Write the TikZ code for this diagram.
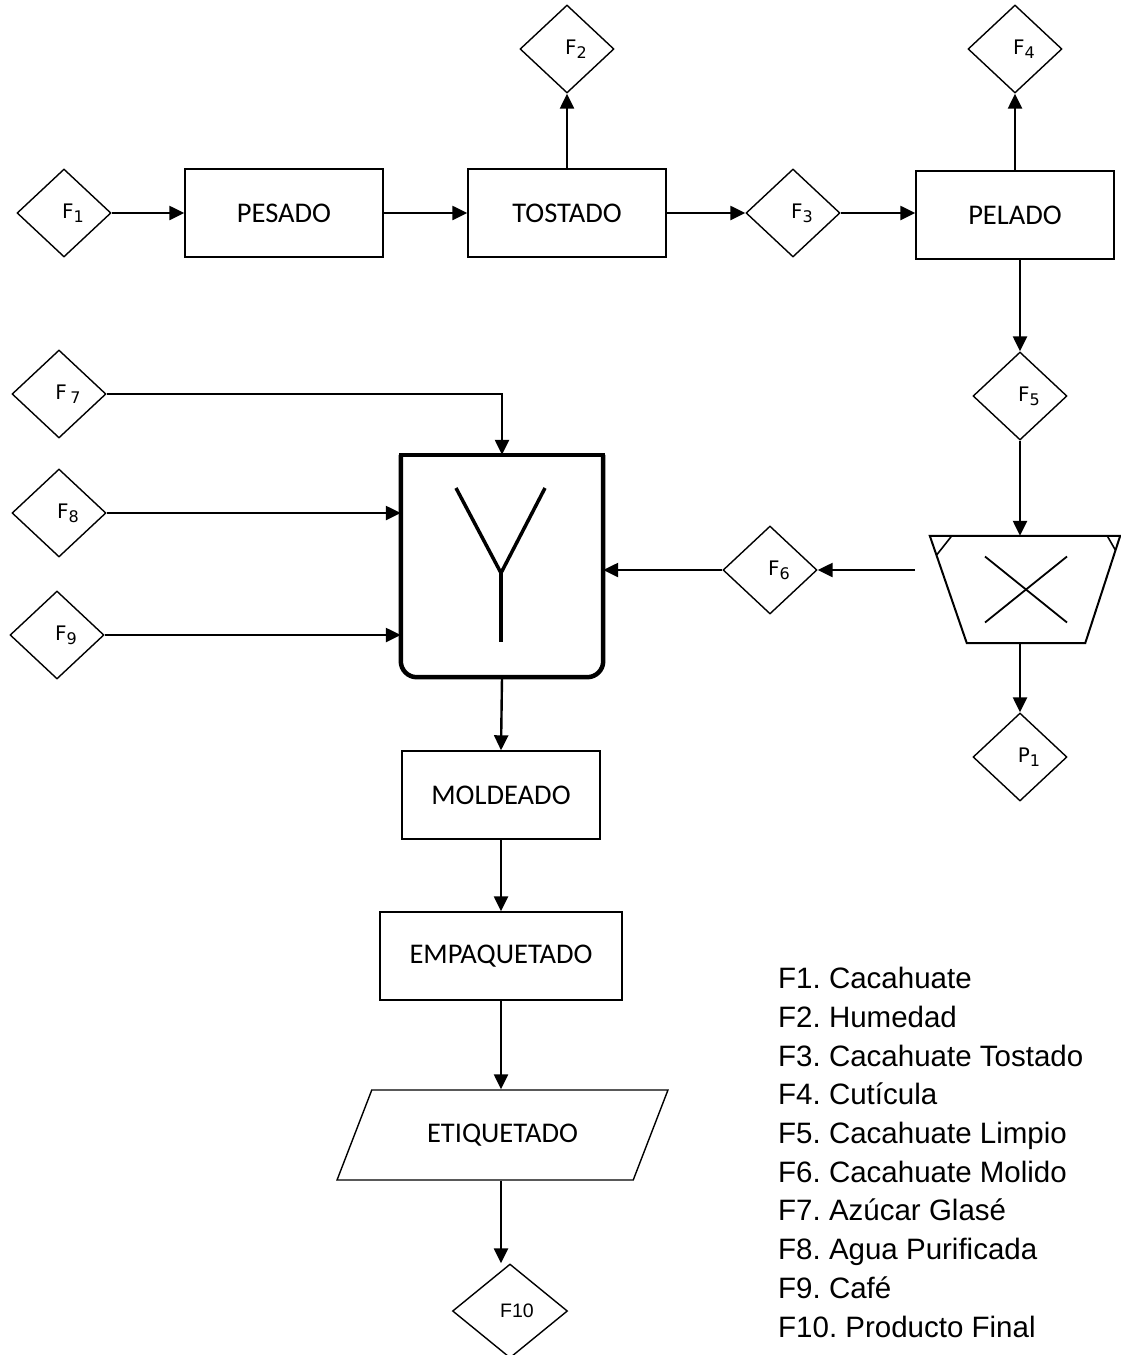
\documentclass[tikz,border=0pt]{standalone}
\usepackage{fontspec}
\setmainfont{Carlito}
\newfontfamily\legfont{Liberation Sans}
\newfontfamily\flowfont{DejaVu Sans}
\usetikzlibrary{shapes.geometric, arrows.meta, positioning}
\newcommand{\lowd}[1]{\raisebox{-0.35ex}{\fontsize{16}{16}\selectfont #1}}
\frenchspacing

\begin{document}
\begin{tikzpicture}[x=1pt, y=-1pt,
  proc/.style={rectangle, draw, line width=1.4pt, minimum width=198pt, minimum height=88pt, inner sep=0pt, font=\fontsize{28.5}{31}\selectfont},
  flow/.style={diamond, draw, line width=1.4pt, minimum width=94pt, minimum height=88pt, inner sep=0pt},
  lab/.style={xshift=9pt, font=\flowfont\fontsize{20}{21}\selectfont},
  legend/.style={anchor=base west, inner sep=0pt, font=\legfont\fontsize{29.5}{32}\selectfont},
  arrow/.style={-{Triangle[length=15pt, width=14pt]}, line width=2.4pt},
  mixline/.style={line width=4.5pt}
]
\useasboundingbox (0,0) rectangle (1121,1355);

\node[flow, label={[lab]center:F\lowd{1}}] (f1) at (64,213) {};
\node[proc] (pes) at (284,213) {PESADO};
\node[proc] (tos) at (567,213) {TOSTADO};
\node[flow, label={[lab]center:F\lowd{2}}] (f2) at (567,49) {};
\node[flow, label={[lab]center:F\lowd{3}}] (f3) at (793,213) {};
\node[proc] (pel) at (1015,215) {PELADO};
\node[flow, label={[lab]center:F\lowd{4}}] (f4) at (1015,49) {};
\node[flow, label={[lab]center:F\lowd{5}}] (f5) at (1020,396) {};
\node[minimum width=190pt, minimum height=107pt, inner sep=0pt] (mill) at (1025,589.5) {};
\coordinate (millout) at (915,570);
\node[flow, label={[lab]center:F\lowd{6}}] (f6) at (770,570) {};
\node[flow, label={[lab]center:P\lowd{1}}] (p1) at (1020,757) {};
\node[minimum width=202pt, minimum height=222pt, inner sep=0pt] (mix) at (502,566) {};
\node[flow, label={[lab]center:F\,\lowd{7}}] (f7) at (59,394) {};
\node[flow, label={[lab]center:F\lowd{8}}] (f8) at (59,513) {};
\node[flow, label={[lab]center:F\lowd{9}}] (f9) at (57,635) {};
\node[proc] (mold) at (501,795) {MOLDEADO};
\node[proc, minimum width=242pt] (emp) at (501,956) {EMPAQUETADO};
\node[trapezium, draw, line width=1.4pt, trapezium left angle=48, trapezium right angle=132, trapezium stretches=true, minimum width=331pt, minimum height=90pt, inner sep=0pt, font=\fontsize{28.5}{31}\selectfont] (etiq) at (502.5,1135) {ETIQUETADO};
\node[flow, minimum width=115pt, minimum height=94pt, label={[lab, xshift=-2pt, font=\legfont\fontsize{19.5}{20}\selectfont]center:F10}] (f10) at (510,1311) {};

\draw[line width=2pt] (mill.north west) -- (mill.north east) -- ([xshift=-35pt]mill.south east) -- ([xshift=37pt]mill.south west) -- cycle;
\draw[line width=1.6pt] (mill.north west) -- ++(22,0) -- ++(-15,19);
\draw[line width=1.6pt] (mill.north east) -- ++(-13,0) -- ++(8,14);
\draw[line width=1.8pt] ([shift={(-40,-33)}]mill.center) -- ([shift={(42,33)}]mill.center);
\draw[line width=1.8pt] ([shift={(-40,33)}]mill.center) -- ([shift={(42,-33)}]mill.center);

\draw[mixline, rounded corners=16pt] (mix.north west) -- (mix.south west) -- (mix.south east) -- (mix.north east);
\draw[mixline, line cap=rect] (mix.north west) -- (mix.north east);
\draw[line width=3.5pt] ([shift={(-46,-78)}]mix.center) -- ([shift={(-1,7)}]mix.center) -- ([shift={(43,-78)}]mix.center);
\draw[line width=3.5pt] ([shift={(-1,7)}]mix.center) -- ([shift={(-1,76)}]mix.center);

\draw[arrow] (f1) -- (pes);
\draw[arrow] (pes) -- (tos);
\draw[arrow] (tos) -- (f2);
\draw[arrow] (tos) -- (f3);
\draw[arrow] (f3) -- (pel.west |- f3);
\draw[arrow] (pel) -- (f4);
\draw[arrow] (pel.south -| f5) -- (f5.north);
\draw[arrow] (f5.south) -- (f5.south |- mill.north);
\draw[arrow] (millout) -- (f6.east);
\draw[arrow] (mill.south -| p1) -- (p1.north);
\draw[arrow] (f6.west) -- (f6.west -| mix.east);
\draw[arrow] (f7.east) -| (mix.north);
\draw[arrow] (f8.east) -- (f8.east -| mix.west);
\draw[arrow] (f9.east) -- (f9.east -| mix.west);
\draw[arrow] (mix.south) -- (mold.north);
\draw[arrow] (mold) -- (emp);
\draw[arrow] (emp.south) -- (emp.south |- etiq.north);
\draw[arrow] (etiq.south -| mold) -- (f10.north -| mold);

\foreach \i/\t in {1/Cacahuate, 2/Humedad, 3/Cacahuate Tostado, 4/Cutícula, 5/Cacahuate Limpio, 6/Cacahuate Molido, 7/Azúcar Glasé, 8/Agua Purificada, 9/Café, 10/Producto Final}
  \node[legend] (leg\i) at (778, {988.7+(\i-1)*38.7}) {F\i. \t};
\end{tikzpicture}
\end{document}
